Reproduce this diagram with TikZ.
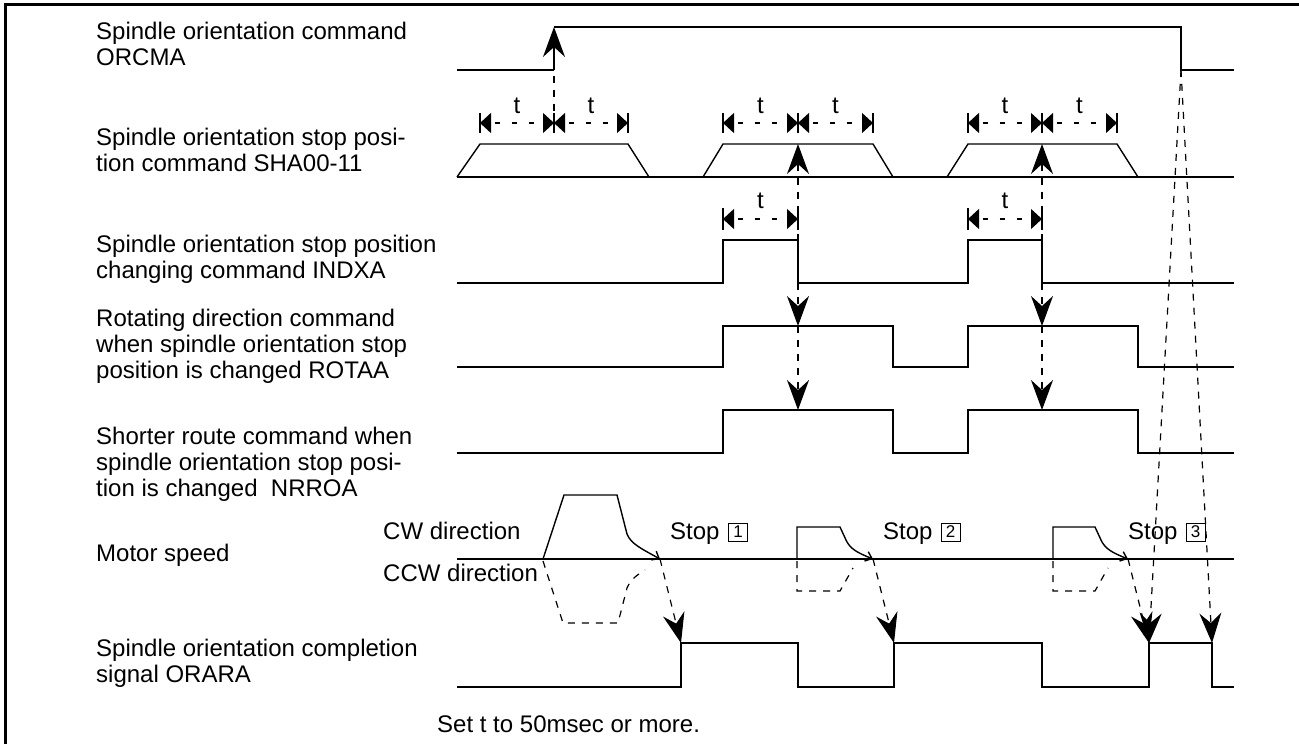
\documentclass[tikz,border=0pt]{standalone}
\usepackage{fontspec}
\setmainfont{Liberation Sans}
\usetikzlibrary{arrows.meta}
\begin{document}
\begin{tikzpicture}[x=1pt,y=-1pt,
  every node/.style={inner sep=0pt, font=\fontsize{24}{26}\selectfont},
  lbl/.style={anchor=base west},
  tl/.style={anchor=base},
  sig/.style={line width=1.4pt, line join=miter},
  dsh/.style={line width=1.2pt, dash pattern=on 7pt off 7pt},
  bigarr/.style={-{Stealth[length=30pt,width=22pt,inset=10pt]}},
  dimline/.style={line width=1.1pt, dash pattern=on 5pt off 12pt, dash phase=-4pt, {Triangle[length=11pt,width=20pt]}-{Triangle[length=11pt,width=20pt]}},
  bar/.style={line width=1.1pt},
  numbox/.style={draw, line width=0.8pt, font=\fontsize{17}{17}\selectfont, minimum width=19pt, minimum height=18pt, inner sep=0pt},
  barb/.style={-{Straight Barb[length=6pt,width=10pt]}}
]
\useasboundingbox (0,0) rectangle (1299,744);
% frame (top and left)
\draw[line width=2.6pt] (5.5,744) -- (5.5,4.5) -- (1299,4.5);

% ---------- labels ----------
\node[lbl] (l1a) at (96,39) {Spindle orientation command};
\node[lbl] (l1b) at (96,65) {ORCMA};
\node[lbl] (l2a) at (96,145) {Spindle orientation stop posi-};
\node[lbl] (l2b) at (96,171) {tion command SHA00-11};
\node[lbl] (l3a) at (96,252) {Spindle orientation stop position};
\node[lbl] (l3b) at (96,278) {changing command INDXA};
\node[lbl] (l4a) at (96,326) {Rotating direction command};
\node[lbl] (l4b) at (96,352) {when spindle orientation stop};
\node[lbl] (l4c) at (96,378) {position is changed ROTAA};
\node[lbl] (l5a) at (96,444) {Shorter route command when};
\node[lbl] (l5b) at (96,470) {spindle orientation stop posi-};
\node[lbl] (l5c) at (96,496) {tion is changed\ \ NRROA};
\node[lbl] (l6) at (96,561) {Motor speed};
\node[lbl] (cw) at (383,539) {CW direction};
\node[lbl] (ccw) at (383,581) {CCW direction};
\node[lbl] (l7a) at (96,656) {Spindle orientation completion};
\node[lbl] (l7b) at (96,682) {signal ORARA};
\node[lbl] (note) at (437,732) {Set t to 50msec or more.};

\node[lbl] (s1) at (670,539) {Stop};
\node[numbox] (b1) at (738,532) {1};
\node[lbl] (s2) at (883,539) {Stop};
\node[numbox] (b2) at (950.5,532) {2};
\node[lbl] (s3) at (1128,539) {Stop};
\node[numbox] (b3) at (1195.5,532) {3};

% ---------- key coordinates ----------
\coordinate (orUp) at (554,70);
\coordinate (orUpT) at (554,27);
\coordinate (orDn) at (1181,70);
\coordinate (shaA) at (798,144);
\coordinate (shaB) at (1042,144);
\coordinate (inA) at (798,283);
\coordinate (inB) at (1042,283);
\coordinate (roA) at (798,326);
\coordinate (roB) at (1042,326);
\coordinate (nrA) at (798,410);
\coordinate (nrB) at (1042,410);
\coordinate (m1) at (660,559);
\coordinate (m2) at (873,559);
\coordinate (m3) at (1128,559);
\coordinate (oa1) at (681,643);
\coordinate (oa2) at (894,643);
\coordinate (oa3) at (1149,643);
\coordinate (oa4) at (1212,643);

% ---------- ORCMA ----------
\draw[sig] (457,70) -- (orUp);
\draw[sig,bigarr] (orUp) -- (orUpT);
\draw[sig] (orUpT) -- (1181,27) -- (orDn) -- (1234,70);
\draw[dsh] (554,76) -- (554,113);

% ---------- SHA00-11 ----------
\draw[sig] (457,177) -- (1234,177);
\draw[sig] (457,177) -- (480,144) -- (628,144) -- (649,177);
\draw[sig] (703,177) -- (723,144) -- (873,144) -- (893,177);
\draw[sig] (947,177) -- (968,144) -- (1117,144) -- (1138,177);
\foreach \a/\b/\c in {480/554/628, 723/798/873, 968/1042/1117} {
  \draw[bar] (\a,113) -- (\a,133);
  \draw[bar] (\b,113) -- (\b,133);
  \draw[bar] (\c,113) -- (\c,133);
  \draw[dimline] (\a,123) -- (\b,123);
  \draw[dimline] (\b,123) -- (\c,123);
  \node[tl] (tA\a) at ({(\a+\b)/2},113) {t};
  \node[tl] (tB\a) at ({(\b+\c)/2},113) {t};
}

% ---------- INDXA ----------
\draw[sig] (457,283) -- (723,283) -- (723,240) -- (798,240) -- (inA) -- (968,283)
  -- (968,240) -- (1042,240) -- (inB) -- (1234,283);
\foreach \a/\b in {723/798, 968/1042} {
  \draw[bar] (\a,208) -- (\a,230);
  \draw[bar] (\b,208) -- (\b,230);
  \draw[dimline] (\a,219) -- (\b,219);
  \node[tl] (tC\a) at ({(\a+\b)/2},208) {t};
}

% ---------- ROTAA ----------
\draw[sig] (457,367) -- (723,367) -- (723,326) -- (893,326) -- (893,367) -- (968,367)
  -- (968,326) -- (1138,326) -- (1138,367) -- (1234,367);

% ---------- NRROA ----------
\draw[sig] (457,453) -- (723,453) -- (723,410) -- (893,410) -- (893,453) -- (968,453)
  -- (968,410) -- (1138,410) -- (1138,453) -- (1234,453);

% ---------- Motor speed ----------
\draw[sig] (457,559) -- (1234,559);
\draw[sig,barb] (543,559) -- (564,495) -- (617,495) -- (627,534)
  .. controls (631,544) and (642,549) .. (m1);
\draw[dsh] (543,561) -- (563,623) -- (618,623) -- (627,588)
  .. controls (631,579) and (637,575) .. (645,570);
\draw[sig,barb] (797,559) -- (797,527) -- (840,527) -- (846,540)
  .. controls (850,549) and (858,553) .. (m2);
\draw[dsh] (797,561) -- (797,591) -- (840,591) -- (853,568);
\draw[sig,barb] (1053,559) -- (1053,527) -- (1095,527) -- (1101,540)
  .. controls (1105,549) and (1113,553) .. (m3);
\draw[dsh] (1053,561) -- (1053,591) -- (1095,591) -- (1108,568);

% ---------- ORARA ----------
\draw[sig] (457,687) -- (681,687) -- (oa1) -- (798,643) -- (798,687) -- (894,687)
  -- (oa2) -- (1042,643) -- (1042,687) -- (1149,687) -- (oa3) -- (oa4)
  -- (1212,687) -- (1234,687);

% ---------- dashed connectors ----------
\draw[dsh,bigarr] (inA) -- (shaA);
\draw[dsh,bigarr] (inB) -- (shaB);
\draw[dsh,bigarr] (inA) -- (roA);
\draw[dsh,bigarr] (roA) -- (nrA);
\draw[dsh,bigarr] (inB) -- (roB);
\draw[dsh,bigarr] (roB) -- (nrB);
\draw[dsh,bigarr] (m1) -- (oa1);
\draw[dsh,bigarr] (m2) -- (oa2);
\draw[dsh,bigarr] (m3) -- (oa3);
\draw[dsh,bigarr] (orDn) -- (oa3);
\draw[dsh,bigarr] (orDn) -- (oa4);
\end{tikzpicture}
\end{document}
